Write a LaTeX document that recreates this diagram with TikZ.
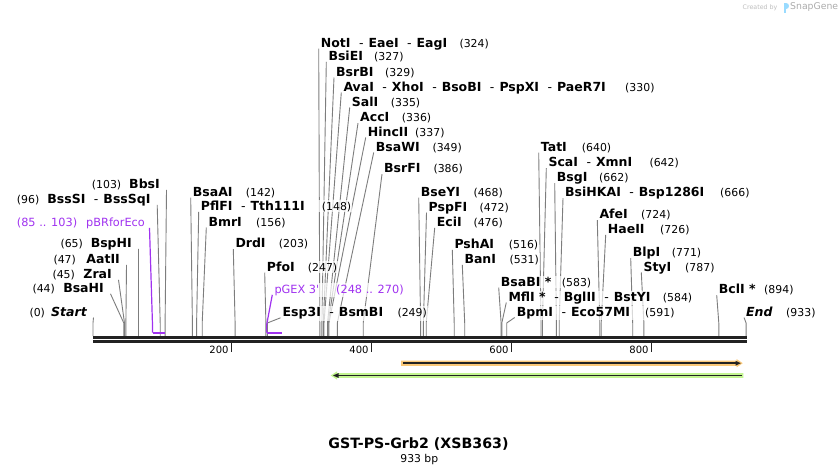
\documentclass[tikz,border=0pt]{standalone}
\usepackage{fontspec}
\setmainfont{DejaVu Sans}
\usetikzlibrary{calc}
\definecolor{leadc}{RGB}{125,125,125}
\definecolor{purp}{RGB}{160,50,240}
\definecolor{bbc}{RGB}{34,34,34}
\definecolor{orf}{RGB}{250,200,120}
\definecolor{grf}{RGB}{195,245,145}
\pgfdeclarelayer{bg}
\pgfdeclarelayer{mid}
\pgfsetlayers{bg,mid,main}
\tikzset{
  nm/.style={font=\fontsize{12.5}{13}\selectfont\bfseries, inner xsep=0.5pt, inner ysep=1.5pt},
  nb/.style={font=\fontsize{10.9}{12}\selectfont, inner xsep=0.5pt, inner ysep=1.5pt},
  ft/.style={font=\fontsize{11.3}{12}\selectfont, text=purp, inner xsep=0.5pt, inner ysep=1.5pt},
  leadline/.style={draw=leadc, line width=0.9pt},
  labbg/.style={fill=white, opacity=0.7},
  tick/.style={draw=bbc, line width=1.4pt},
  ticklab/.style={font=\fontsize{10}{11}\selectfont, anchor=east, inner sep=0pt},
}
\newcommand\dsh{{\mdseries\hspace{8.5pt}-\hspace{5pt}}}
% right-placed label: id, x, cy, name, num x, num, bp
\newcommand\rlab[7]{%
  \coordinate (K#1) at ({93+0.7*#7},323);
  \coordinate (B#1) at ({93+0.7*#7},336);
  \node[nm,anchor=base west] (L#1) at (#2-0.5,#3+4.3) {#4};
  \node[nb,anchor=base west] (N#1) at (#5-0.5,#3+4.3) {#6};
  \begin{pgfonlayer}{mid}\fill[labbg] (L#1.south west) rectangle (N#1.north east);\end{pgfonlayer}
  \begin{pgfonlayer}{bg}\draw[leadline] ([xshift=-1.5pt,yshift=-1.5pt]L#1.base west) -- (K#1) -- (B#1);\end{pgfonlayer}
}
% left-placed label: id, right x, cy, name, num x, num, bp
\newcommand\llab[7]{%
  \coordinate (K#1) at ({93+0.7*#7},323);
  \coordinate (B#1) at ({93+0.7*#7},336);
  \node[nm,anchor=base east] (L#1) at (#2+0.5,#3+4.3) {#4};
  \node[nb,anchor=base west] (N#1) at (#5-0.5,#3+4.3) {#6};
  \begin{pgfonlayer}{mid}\fill[labbg] (N#1.south west) rectangle (L#1.north east);\end{pgfonlayer}
  \begin{pgfonlayer}{bg}\draw[leadline] ([xshift=6pt,yshift=-1.5pt]L#1.base east) -- (K#1) -- (B#1);\end{pgfonlayer}
}
\begin{document}
\begin{tikzpicture}[x=1pt,y=-1pt]
\useasboundingbox (0,0) rectangle (840,475);
\begin{pgfonlayer}{bg}\fill[white] (0,0) rectangle (840,475);\end{pgfonlayer}

% backbone
\fill[bbc] (92.5,335.7) rectangle (746.5,342.7);
\draw[white, line width=0.9pt] (92.5,339.4) -- (746.5,339.4);
\foreach \t/\xx in {200/231.7,400/371.7,600/511.7,800/651.7}{
  \draw[tick] (\xx,342.5) -- (\xx,351.5);
  \node[ticklab] (T\t) at (\xx-3,349.5) {\t};
}

% right-placed enzyme labels
\rlab{a}{320.7}{42.7}{NotI\dsh EaeI\dsh EagI}{459.3}{(324)}{324}
\rlab{b}{328.3}{56}{BsiEI}{374}{(327)}{327}
\rlab{c}{336}{71.7}{BsrBI}{385}{(329)}{329}
\rlab{d}{343.3}{86.7}{AvaI\dsh XhoI\dsh BsoBI\dsh PspXI\dsh PaeR7I}{625}{(330)}{330}
\rlab{e}{351.7}{101.7}{SalI}{390.7}{(335)}{335}
\rlab{f}{360}{117.3}{AccI}{401.7}{(336)}{336}
\rlab{g}{367.7}{131.7}{HincII}{415}{(337)}{337}
\rlab{h}{375.7}{146.7}{BsaWI}{432.3}{(349)}{349}
\rlab{i}{384}{168.3}{BsrFI}{433.3}{(386)}{386}
\rlab{j}{192.7}{191.7}{BsaAI}{245.7}{(142)}{142}
\rlab{k}{200.7}{206}{PflFI\dsh Tth111I}{321.7}{(148)}{148}
\rlab{l}{208.3}{221.7}{BmrI}{256}{(156)}{156}
\rlab{m}{235.3}{243.3}{DrdI}{278.7}{(203)}{203}
\rlab{n}{266.7}{266.7}{PfoI}{307.7}{(247)}{247}
\rlab{p}{282.5}{312}{Esp3I\dsh BsmBI}{397.3}{(249)}{249}
\rlab{q}{420.7}{191.7}{BseYI}{473.3}{(468)}{468}
\rlab{r}{428.5}{206.7}{PspFI}{479.3}{(472)}{472}
\rlab{s}{436.7}{222}{EciI}{473.3}{(476)}{476}
\rlab{t}{454.3}{244}{PshAI}{508.7}{(516)}{516}
\rlab{u}{464.3}{259}{BanI}{509.3}{(531)}{531}
\rlab{v}{540.7}{146.7}{TatI}{581.7}{(640)}{640}
\rlab{w}{548.3}{162.3}{ScaI\dsh XmnI}{649.3}{(642)}{642}
\rlab{x}{556.7}{177.3}{BsgI}{599}{(662)}{662}
\rlab{y}{565}{192.3}{BsiHKAI\dsh Bsp1286I}{720}{(666)}{666}
\rlab{z}{599.3}{214.3}{AfeI}{641}{(724)}{724}
\rlab{aa}{607.7}{229}{HaeII}{660}{(726)}{726}
\rlab{ab}{632.7}{252.3}{BlpI}{671.7}{(771)}{771}
\rlab{ac}{643.3}{266.7}{StyI}{685}{(787)}{787}
\rlab{ad}{500.7}{281.7}{BsaBI *}{561.7}{(583)}{583}
\rlab{ae}{508.3}{296.7}{MflI *\dsh BglII\dsh BstYI}{662.7}{(584)}{584}
\rlab{af}{516.7}{311.7}{BpmI\dsh Eco57MI}{645}{(591)}{591}
\rlab{ag}{718.7}{289.3}{BclI *}{764}{(894)}{894}
\rlab{end}{746}{311.7}{\itshape End}{786}{(933)}{933}

% left-placed enzyme labels
\llab{s0}{87}{311.7}{\itshape Start}{29.3}{(0)}{0}
\llab{s1}{104}{288}{BsaHI}{32.3}{(44)}{44}
\llab{s2}{112}{274}{ZraI}{52.3}{(45)}{45}
\llab{s3}{120}{259}{AatII}{53.3}{(47)}{47}
\llab{s4}{132}{243}{BspHI}{60.3}{(65)}{65}
\llab{s6}{150.7}{199}{BssSI\dsh BssSqI}{16.7}{(96)}{96}
\llab{s7}{160}{184}{BbsI}{91.7}{(103)}{103}

% primer features
\node[ft,anchor=base east] (Lpbr) at (145.5,226.3) {pBRforEco};
\node[ft,anchor=base west] (Npbr) at (16.2,226.3) {(85 .. 103)};
\coordinate (Kpbr) at (152.5,325);
\coordinate (Bpbr1) at (152.5,332.7);
\coordinate (Bpbr2) at (165.1,332.7);
\begin{pgfonlayer}{mid}\fill[labbg] (Npbr.south west) rectangle (Lpbr.north east);\end{pgfonlayer}
\draw[purp, line width=1.2pt] ([xshift=4pt,yshift=-1.5pt]Lpbr.base east) -- (Kpbr) -- (Bpbr1);
\draw[purp, line width=2pt] (Bpbr1) -- (Bpbr2);

\node[ft,anchor=base west] (Lpgx) at (273.8,293.3) {pGEX 3\textquotesingle};
\node[ft,anchor=base west] (Npgx) at (335.5,293.3) {(248 .. 270)};
\coordinate (Kpgx) at (266.6,325);
\coordinate (Bpgx1) at (266.6,332.7);
\coordinate (Bpgx2) at (282,332.7);
\begin{pgfonlayer}{mid}\fill[labbg] (Lpgx.south west) rectangle (Npgx.north east);\end{pgfonlayer}
\draw[purp, line width=1.2pt] ([xshift=-1.5pt,yshift=-1.5pt]Lpgx.base west) -- (Kpgx) -- (Bpgx1);
\draw[purp, line width=2pt] (Bpgx1) -- (Bpgx2);

% feature arrows
\fill[orf] (401,360.5) -- (736.5,360.5) -- (736.5,359) -- (742.7,363.2) -- (736.5,367.4) -- (736.5,365.9) -- (401,365.9) -- cycle;
\draw[bbc, line width=1.7pt] (403.3,363.2) -- (736.5,363.2);
\fill[bbc] (735.5,360.8) -- (740.8,363.2) -- (735.5,365.6) -- cycle;

\fill[grf] (743.3,373.1) -- (337,373.1) -- (337,371.4) -- (330.7,375.5) -- (337,379.6) -- (337,377.9) -- (743.3,377.9) -- cycle;
\draw[bbc, line width=1.7pt] (741.5,375.5) -- (337.5,375.5);
\fill[bbc] (338.5,373.1) -- (333,375.5) -- (338.5,377.9) -- cycle;

% title
\node[font=\fontsize{14.2}{16}\selectfont\bfseries] (title) at (418.5,444) {GST-PS-Grb2 (XSB363)};
\node[font=\fontsize{10.8}{12}\selectfont] (len) at (419.3,459.5) {933 bp};

% credit
\node[anchor=west, inner sep=0pt, font=\fontsize{6.3}{7}\selectfont, text=gray!50] (cred) at (742.5,7.5) {Created by};
\fill[blue!35!cyan!40] (783.5,3) rectangle (786,12.5);
\fill[blue!35!cyan!40] (786,3) .. controls (790,3) and (790,9) .. (786,9) -- cycle;
\node[anchor=west, inner sep=0pt, font=\fontsize{9.3}{10}\selectfont, text=gray!65] (sg) at (790,7.5) {SnapGene};
\end{tikzpicture}
\end{document}
